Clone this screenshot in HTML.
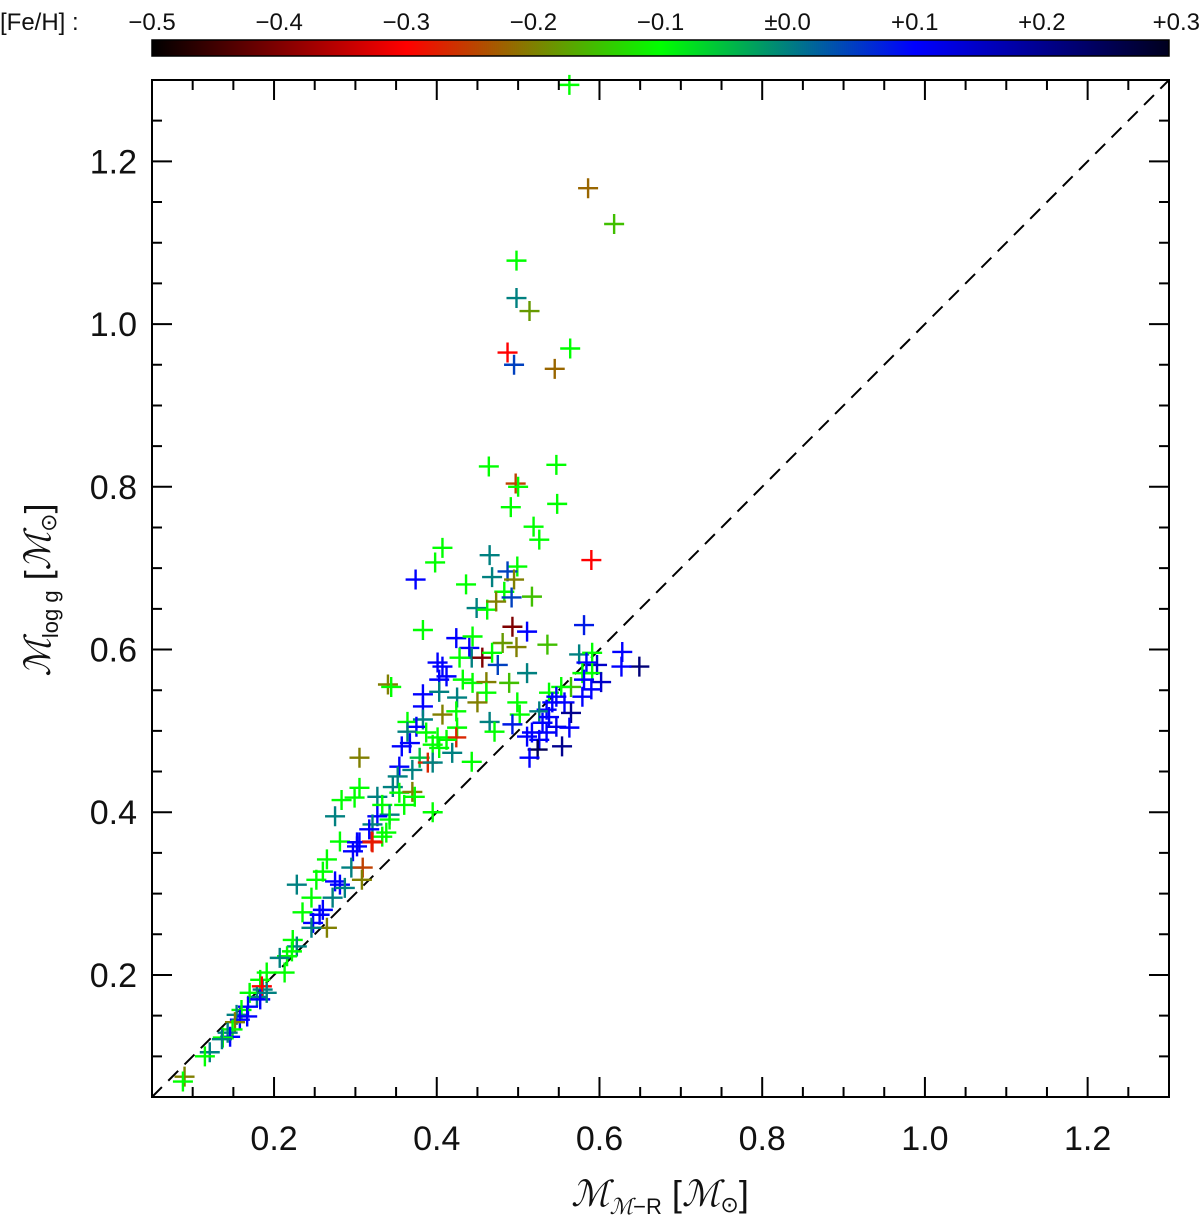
<!DOCTYPE html>
<html><head><meta charset="utf-8"><style>
html,body{margin:0;padding:0;background:#fff;}
svg{display:block;}
text{font-family:"Liberation Sans","DejaVu Sans",sans-serif;fill:#111;}
</style></head><body>
<svg id="chart" width="1200" height="1216" viewBox="0 0 1200 1216" xmlns="http://www.w3.org/2000/svg">
<defs>
<linearGradient id="cbgrad" x1="0" x2="1" y1="0" y2="0">
<stop offset="0" stop-color="#000"/>
<stop offset="0.25" stop-color="#ff0000"/>
<stop offset="0.5" stop-color="#00ff00"/>
<stop offset="0.75" stop-color="#0000ff"/>
<stop offset="1" stop-color="#00001e"/>
</linearGradient>
</defs>
<g id="colorbar">
<rect x="152" y="40" width="1017" height="16" fill="url(#cbgrad)" stroke="#000" stroke-width="1.5"/>
<text x="0" y="30" font-size="24">[Fe/H] :</text>
</g>
<g id="plot"></g>
<text x="660" y="1206" font-size="36" text-anchor="middle"><tspan font-style="italic" font-family="DejaVu Serif,serif">ℳ</tspan><tspan font-size="22" dy="8" font-style="italic" font-family="DejaVu Serif,serif">ℳ</tspan><tspan font-size="22">−R</tspan><tspan dy="-8"> [</tspan><tspan font-style="italic" font-family="DejaVu Serif,serif">ℳ</tspan><tspan font-size="22" dy="6">⊙</tspan><tspan dy="-6">]</tspan></text>
<text transform="translate(50,590) rotate(-90)" font-size="36" text-anchor="middle"><tspan font-style="italic" font-family="DejaVu Serif,serif">ℳ</tspan><tspan font-size="22" dy="8">log g</tspan><tspan dy="-8"> [</tspan><tspan font-style="italic" font-family="DejaVu Serif,serif">ℳ</tspan><tspan font-size="22" dy="6">⊙</tspan><tspan dy="-6">]</tspan></text>
</svg>
<script>
const xs=[0.563,0.586,0.618,0.498,0.498,0.514,0.487,0.495,0.564,0.545,0.464,0.547,0.497,0.500,0.548,0.491,0.519,0.526,0.590,
0.407,0.398,0.465,0.374,0.436,0.499,0.487,0.468,0.495,0.483,0.492,0.517,0.449,0.462,0.473,0.383,0.424,0.444,0.493,0.511,0.481,0.498,0.536,0.581,0.440,0.443,0.456,0.468,0.475,0.428,0.401,0.407,0.412,0.403,0.432,0.444,0.461,0.489,0.511,0.340,0.344,0.403,0.425,0.461,0.383,0.383,0.450,0.407,0.424,0.499,0.502,0.364,0.383,0.375,0.364,0.387,0.425,0.424,0.401,0.412,0.395,0.403,0.367,0.357,0.419,0.465,0.471,0.493,0.443,0.379,0.389,0.395,0.354,0.352,0.370,0.305,0.305,0.283,0.299,0.275,0.327,0.346,0.354,0.370,0.373,0.333,0.360,0.342,0.327,0.321,0.333,0.395,0.281,0.302,0.320,
0.575,0.591,0.628,0.649,0.627,0.597,0.584,0.579,0.591,0.602,0.581,0.590,0.579,0.565,0.553,0.538,0.547,0.557,0.565,0.542,0.535,0.526,0.538,0.530,0.547,0.563,0.535,0.517,0.511,0.526,0.554,0.524,0.514,
0.342,0.338,0.317,0.302,0.297,0.305,0.321,0.295,0.309,0.308,0.228,0.265,0.260,0.252,0.275,0.281,0.287,0.246,0.272,0.260,0.256,0.235,0.248,0.265,0.246,0.223,0.228,0.222,0.216,0.207,0.213,0.191,0.183,0.186,0.185,0.179,0.170,0.183,0.191,0.168,0.160,0.154,0.167,0.158,0.152,0.149,0.143,0.146,0.137,0.136,0.121,0.115,0.090,0.088];
const ys=[1.294,1.167,1.123,1.078,1.032,1.016,0.965,0.950,0.970,0.945,0.825,0.827,0.804,0.800,0.779,0.775,0.751,0.735,0.710,
0.725,0.707,0.716,0.686,0.680,0.702,0.696,0.689,0.686,0.671,0.664,0.665,0.651,0.649,0.659,0.624,0.614,0.616,0.628,0.622,0.608,0.603,0.606,0.630,0.602,0.590,0.590,0.596,0.581,0.590,0.584,0.579,0.567,0.563,0.563,0.559,0.560,0.559,0.571,0.557,0.554,0.548,0.541,0.547,0.545,0.530,0.535,0.520,0.524,0.535,0.520,0.511,0.514,0.505,0.499,0.498,0.504,0.492,0.492,0.489,0.483,0.479,0.485,0.481,0.473,0.511,0.499,0.508,0.462,0.467,0.461,0.461,0.456,0.444,0.452,0.467,0.430,0.415,0.418,0.395,0.419,0.431,0.424,0.425,0.419,0.409,0.409,0.397,0.395,0.385,0.370,0.400,0.364,0.363,0.364,
0.594,0.596,0.597,0.579,0.579,0.581,0.584,0.571,0.571,0.560,0.563,0.551,0.542,0.554,0.554,0.547,0.542,0.535,0.522,0.535,0.526,0.524,0.517,0.510,0.505,0.504,0.498,0.498,0.493,0.489,0.481,0.477,0.467,
0.391,0.375,0.379,0.358,0.352,0.363,0.363,0.332,0.332,0.317,0.311,0.342,0.327,0.317,0.315,0.311,0.307,0.295,0.295,0.280,0.274,0.277,0.264,0.258,0.258,0.243,0.235,0.229,0.223,0.221,0.203,0.203,0.194,0.182,0.186,0.173,0.178,0.170,0.178,0.161,0.157,0.151,0.149,0.145,0.142,0.133,0.129,0.124,0.123,0.121,0.105,0.100,0.075,0.069];
const feh=[-0.1,-0.22,-0.15,-0.1,0.0,-0.18,-0.3,0.05,-0.1,-0.22,-0.1,-0.1,-0.25,-0.1,-0.1,-0.1,-0.1,-0.1,-0.3,
-0.1,-0.1,0.0,0.1,-0.1,-0.1,0.05,0.0,-0.2,-0.1,0.05,-0.15,0.0,-0.1,-0.2,-0.1,0.1,-0.1,-0.4,0.1,-0.18,-0.2,-0.15,0.08,0.1,0.0,-0.4,-0.1,0.05,-0.1,0.1,0.1,0.1,0.1,-0.1,-0.1,-0.2,-0.15,0.0,-0.2,-0.1,0.0,0.0,-0.1,0.1,0.1,-0.2,-0.2,-0.1,-0.1,-0.1,-0.1,0.0,0.1,0.0,-0.1,-0.1,-0.27,-0.1,-0.1,-0.1,-0.1,0.1,0.1,0.0,0.0,-0.1,0.08,-0.1,-0.05,-0.27,0.0,0.1,0.0,0.0,-0.2,-0.1,-0.1,-0.1,0.0,0.0,0.0,-0.1,-0.2,-0.1,-0.1,-0.1,0.0,0.1,0.0,-0.1,-0.1,-0.1,0.1,-0.28,
0.0,-0.1,0.1,0.22,0.1,0.15,0.1,-0.1,-0.1,0.15,0.1,0.1,0.1,-0.15,-0.1,-0.1,0.1,0.1,0.2,0.1,0.1,0.0,0.1,0.1,0.12,0.1,0.1,0.1,0.1,0.1,0.2,0.25,0.1,
-0.1,-0.1,0.1,0.1,0.1,0.1,-0.28,0.0,-0.25,-0.2,0.0,-0.1,-0.1,-0.1,0.1,0.1,0.0,-0.1,0.0,0.1,0.1,-0.1,0.1,-0.2,0.0,-0.1,0.0,-0.1,-0.1,0.0,-0.1,-0.1,-0.1,0.0,-0.3,0.0,-0.1,0.1,0.0,0.1,-0.1,0.0,0.1,0.1,-0.2,-0.1,0.0,0.1,-0.1,0.0,0.0,-0.1,-0.2,-0.1];
const xTicks=[0.2,0.4,0.6,0.8,1.0,1.2];
const yTicks=[0.2,0.4,0.6,0.8,1.0,1.2];
const cbTicks=[-0.5,-0.4,-0.3,-0.2,-0.1,0.0,0.1,0.2,0.3];
const cbLabels=["−0.5","−0.4","−0.3","−0.2","−0.1","±0.0","+0.1","+0.2","+0.3"];

const NS="http://www.w3.org/2000/svg";
const L=152,R=1169,T=80,B=1097,MIN=0.05,MAX=1.30;
const sx=v=>L+(v-MIN)/(MAX-MIN)*(R-L);
const sy=v=>B-(v-MIN)/(MAX-MIN)*(B-T);
const cx=v=>L+(v+0.5)/0.8*(R-L);
const svg=document.getElementById('chart');
const plot=document.getElementById('plot');
function mk(tag,attrs,parent){const e=document.createElementNS(NS,tag);for(const k in attrs)e.setAttribute(k,attrs[k]);(parent||plot).appendChild(e);return e;}
function color(f){
  const st=[[-0.5,0,0,0],[-0.3,255,0,0],[-0.1,0,255,0],[0.1,0,0,255],[0.3,0,0,30]];
  f=Math.max(-0.5,Math.min(0.3,f));
  for(let i=0;i<st.length-1;i++){const a=st[i],b=st[i+1];if(f<=b[0]){const t=(f-a[0])/(b[0]-a[0]);
    return `rgb(${Math.round(a[1]+t*(b[1]-a[1]))},${Math.round(a[2]+t*(b[2]-a[2]))},${Math.round(a[3]+t*(b[3]-a[3]))})`;}}
  return 'rgb(0,0,30)';
}
const cb=document.getElementById('colorbar');
cbTicks.forEach((v,i)=>{
  const last=i==cbTicks.length-1;
  const t=mk('text',{x:last?1200:cx(v),y:30,'font-size':24,'text-anchor':last?'end':'middle'},cb);
  
  
  t.textContent=cbLabels[i];
});
const d=mk('line',{x1:sx(MIN),y1:sy(MIN),x2:sx(MAX),y2:sy(MAX),stroke:'#000','stroke-width':2,'stroke-dasharray':'14,9'});


for(let i=0;i<xs.length;i++){
  const x=sx(xs[i]),y=sy(ys[i]),c=color(feh[i]);
  const p=mk('path',{d:`M${x-10},${y}H${x+10}M${x},${y-10}V${y+10}`,stroke:c,'stroke-width':2.4,fill:'none'});
  
  
}
const fr=mk('rect',{x:L,y:T,width:R-L,height:B-T,fill:'none',stroke:'#000','stroke-width':2});


for(let k=0;k<=25;k++){
  const v=MIN+k*0.05; const major=xTicks.some(t=>Math.abs(t-v)<1e-6); const len=major?20:10;
  const x=sx(v),y=sy(v);
  const g=mk('path',{d:`M${x},${B}v${-len}M${x},${T}v${len}M${L},${y}h${len}M${R},${y}h${-len}`,stroke:'#000','stroke-width':2});
  
  
}
xTicks.forEach(v=>{
  const t=mk('text',{x:sx(v),y:1150,'font-size':34,'text-anchor':'middle'},svg);
  
  
  t.textContent=v.toFixed(1);
});
yTicks.forEach(v=>{
  const t=mk('text',{x:137,y:sy(v)+12,'font-size':34,'text-anchor':'end'},svg);
  
  
  t.textContent=v.toFixed(1);
});
</script>
</body></html>
